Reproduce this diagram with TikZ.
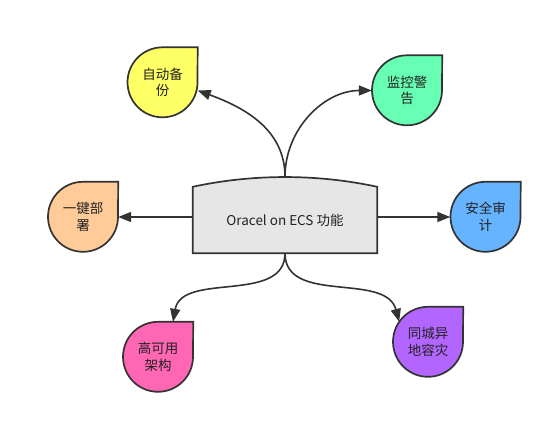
\documentclass[tikz,border=0pt]{standalone}
\usepackage{fontspec}
\setmainfont{Noto Sans CJK SC}
\usetikzlibrary{arrows.meta,backgrounds}

\definecolor{linegray}{HTML}{333333}
\definecolor{textgray}{HTML}{222222}
\definecolor{coregray}{HTML}{E6E6E6}
\definecolor{dropyellow}{HTML}{FFFF66}
\definecolor{dropgreen}{HTML}{66FFB3}
\definecolor{droporange}{HTML}{FFCC99}
\definecolor{dropblue}{HTML}{66B3FF}
\definecolor{droppink}{HTML}{FF66B3}
\definecolor{droppurple}{HTML}{B366FF}

% teardrop outline behind a drop node
\newcommand{\dropshape}[2]{%
  \draw[shapeline, fill=#2] (#1.north) arc[start angle=90, end angle=360, radius=35pt]
    -- (#1.east |- #1.north) -- cycle;}

\begin{document}
\begin{tikzpicture}[x=1pt, y=1pt,
  every node/.style={font=\fontsize{13.5}{16.5}\selectfont, text=textgray},
  drop/.style={circle, minimum size=70pt, inner sep=0pt, align=center},
  shapeline/.style={draw=linegray, line width=1.7pt},
  link/.style={draw=linegray, line width=1.6pt, -{Triangle[length=13pt,width=10pt]}}]
  \useasboundingbox (0,0) rectangle (552,424);

  \node[minimum width=184pt, minimum height=66pt] (core) at (285,204) {Oracel on ECS 功能};
  \coordinate (ctop) at ([yshift=10pt]core.north);

  \node[drop] (zidong)    at (162.5,341.5) {自动备\\份};
  \node[drop] (jiankong)  at (407,333.5)   {监控警\\告};
  \node[drop] (yijian)    at (83,207)      {一键部\\署};
  \node[drop] (anquan)    at (485.5,207)   {安全审\\计};
  \node[drop] (gaoke)     at (158,67)      {高可用\\架构};
  \node[drop] (tongcheng) at (428,82)      {同城异\\地容灾};

  \begin{pgfonlayer}{background}
    \draw[shapeline, fill=coregray] (core.south west) -- (core.north west)
      .. controls +(60,13) and +(-60,13) .. (core.north east) -- (core.south east) -- cycle;
    \dropshape{zidong}{dropyellow}
    \dropshape{jiankong}{dropgreen}
    \dropshape{yijian}{droporange}
    \dropshape{anquan}{dropblue}
    \dropshape{gaoke}{droppink}
    \dropshape{tongcheng}{droppurple}
  \end{pgfonlayer}

  \draw[link] (ctop) to[out=90, in=-20] ([yshift=-8pt]zidong.east);
  \draw[link] (ctop) to[out=90, in=180] (jiankong.west);
  \draw[link] (yijian.east -| core.west) -- (yijian.east);
  \draw[link] (anquan.west -| core.east) -- (anquan.west);
  \draw[link] (core.south) to[out=-90, in=80] ([xshift=15pt]gaoke.north);
  \draw[link] (core.south) to[out=-90, in=105] (tongcheng.145);
\end{tikzpicture}
\end{document}
